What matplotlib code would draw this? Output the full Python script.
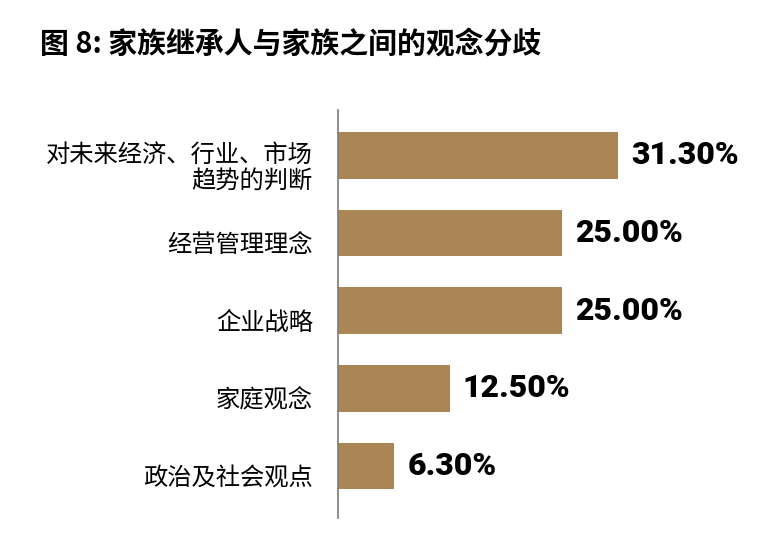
import matplotlib
matplotlib.use("Agg")
import matplotlib.pyplot as plt
import matplotlib.transforms as mtransforms

plt.rcParams['font.family'] = ['Noto Sans CJK SC', 'DejaVu Sans']

# data
TITLE = "图 8: 家族继承人与家族之间的观念分歧"
categories = ["对未来经济、行业、市场\n趋势的判断", "经营管理理念", "企业战略", "家庭观念", "政治及社会观点"]
values = [31.3, 25.0, 25.0, 12.5, 6.3]
value_labels = ["31.30%", "25.00%", "25.00%", "12.50%", "6.30%"]

BAR_COLOR = "#AA8656"
W, H, DPI = 770, 544, 100

fig = plt.figure(figsize=(W / DPI, H / DPI), dpi=DPI)
fig.patch.set_facecolor("white")

# axes placed in pixel terms: axis line at x=338, runs y=110..518
ax = fig.add_axes([338 / W, 26 / H, 402.6 / W, 408 / H])

y = list(range(len(categories)))
ax.barh(y, values, height=0.6, color=BAR_COLOR, zorder=2)
ax.set_xlim(0, 45)
ax.set_ylim(4.67, -0.586)

for side in ["top", "right", "bottom"]:
    ax.spines[side].set_visible(False)
ax.spines["left"].set_color("#7a7a7a")
ax.spines["left"].set_linewidth(1.2)
ax.set_xticks([])
ax.set_yticks([])

# category labels, right aligned, a bit below the bar centre
lab_tr = ax.get_yaxis_transform() + mtransforms.ScaledTranslation(-25 / DPI, -12 / DPI, fig.dpi_scale_trans)
for yi, cat in zip(y, categories):
    ax.text(0, yi, cat, transform=lab_tr, ha="right", va="center",
            fontsize=17.5, color="black", linespacing=1.0)

# value labels
val_tr = ax.transData + mtransforms.ScaledTranslation(13 / DPI, 0, fig.dpi_scale_trans)
for yi, v, lab in zip(y, values, value_labels):
    ax.text(v, yi, lab, transform=val_tr, ha="left", va="center",
            fontsize=23, fontweight="black", family=["Roboto", "DejaVu Sans"], color="black")

fig.text(40 / W, 1 - 44 / H, TITLE, ha="left", va="center",
         fontsize=20.8, fontweight="black", color="black")

fig.savefig("out.png", dpi=DPI, facecolor="white")
